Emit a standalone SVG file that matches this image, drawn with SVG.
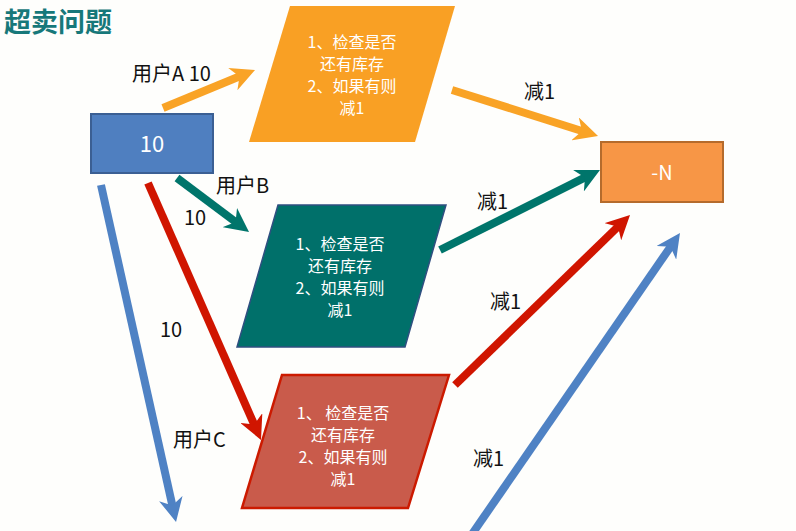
<svg xmlns="http://www.w3.org/2000/svg" width="796" height="531" viewBox="0 0 796 531">
<style>
.lbl{font-family:"Noto Sans CJK SC","Liberation Sans",sans-serif;font-size:20px;fill:#111}
.in{font-family:"Noto Sans CJK SC","Liberation Sans",sans-serif;font-size:16px;fill:#fff;text-anchor:middle}
.arr{fill:none;stroke-width:8;stroke-linecap:butt}
</style>
<defs>
<marker id="hO" viewBox="0 0 10 10" refX="4" refY="5" markerWidth="3" markerHeight="3" orient="auto" markerUnits="strokeWidth"><path d="M0,0 L10,5 L0,10 L3,5 z" fill="#f9a326"/></marker>
<marker id="hT" viewBox="0 0 10 10" refX="4" refY="5" markerWidth="3" markerHeight="3" orient="auto" markerUnits="strokeWidth"><path d="M0,0 L10,5 L0,10 L3,5 z" fill="#00756b"/></marker>
<marker id="hR" viewBox="0 0 10 10" refX="4" refY="5" markerWidth="3" markerHeight="3" orient="auto" markerUnits="strokeWidth"><path d="M0,0 L10,5 L0,10 L3,5 z" fill="#d01500"/></marker>
<marker id="hB" viewBox="0 0 10 10" refX="4" refY="5" markerWidth="3" markerHeight="3" orient="auto" markerUnits="strokeWidth"><path d="M0,0 L10,5 L0,10 L3,5 z" fill="#4f82c4"/></marker>
</defs>
<rect width="796" height="531" fill="#fefefc"/>
<text x="4" y="32" font-family="Noto Sans CJK SC, sans-serif" font-size="27" font-weight="bold" fill="#17787a">超卖问题</text>

<g id="connectors">
<line class="arr" x1="163" y1="108" x2="241.7" y2="75.5" stroke="#f9a326" marker-end="url(#hO)"/>
<line class="arr" x1="452" y1="90" x2="584.3" y2="131.7" stroke="#f9a326" marker-end="url(#hO)"/>
<line class="arr" x1="177" y1="178" x2="237.5" y2="223.4" stroke="#00756b" marker-end="url(#hT)"/>
<line class="arr" x1="440" y1="250" x2="587.1" y2="176.4" stroke="#00756b" marker-end="url(#hT)"/>
<line class="arr" x1="148" y1="183" x2="255.2" y2="426.8" stroke="#d01500" marker-end="url(#hR)"/>
<line class="arr" x1="455" y1="385" x2="619.7" y2="225" stroke="#d01500" marker-end="url(#hR)"/>
<line class="arr" x1="101" y1="185" x2="172.9" y2="507.9" stroke="#4f82c4" marker-end="url(#hB)"/>
<line class="arr" x1="470" y1="537" x2="671.8" y2="244.9" stroke="#4f82c4" marker-end="url(#hB)"/>
<text class="lbl" x="132" y="81">用户A 10</text>
<text class="lbl" x="524" y="99">减1</text>
<text class="lbl" x="216" y="193">用户B</text>
<text class="lbl" x="184" y="225">10</text>
<text class="lbl" x="477" y="209">减1</text>
<text class="lbl" x="160" y="337">10</text>
<text class="lbl" x="490" y="309">减1</text>
<text class="lbl" x="173" y="447">用户C</text>
<text class="lbl" x="473" y="466">减1</text>
</g>

<g id="stock">
<rect x="91" y="114" width="122" height="59" fill="#4f7fc0" stroke="#3b5f93" stroke-width="2"/>
<text x="152" y="152" font-family="Noto Sans CJK SC, sans-serif" font-size="22" fill="#fff" text-anchor="middle">10</text>
</g>

<g id="procA">
<polygon points="290,6 455,6 415,142 249,142" fill="#f9a024"/>
<text class="in" x="352" y="48">1、检查是否</text>
<text class="in" x="352" y="70">还有库存</text>
<text class="in" x="352" y="92">2、如果有则</text>
<text class="in" x="352" y="114">减1</text>
</g>

<g id="procB">
<polygon points="278,205 446,205 405,347 237,347" fill="#00706a" stroke="#2f4f80" stroke-width="1.5"/>
<text class="in" x="340" y="250">1、检查是否</text>
<text class="in" x="340" y="272">还有库存</text>
<text class="in" x="340" y="294">2、如果有则</text>
<text class="in" x="340" y="316">减1</text>
</g>

<g id="procC">
<polygon points="282,375 449,375 408,508 242,508" fill="#c95b4b" stroke="#cc1a00" stroke-width="2.5"/>
<text class="in" x="343" y="419" font-size="18">1、 检查是否</text>
<text class="in" x="343" y="441">还有库存</text>
<text class="in" x="343" y="463">2、如果有则</text>
<text class="in" x="343" y="485">减1</text>
</g>

<g id="result">
<rect x="601" y="142" width="122" height="60" fill="#f79646" stroke="#b56b2c" stroke-width="2"/>
<text x="662" y="180" font-family="Noto Sans CJK SC, sans-serif" font-size="20" fill="#fff" text-anchor="middle">-N</text>
</g>
</svg>
